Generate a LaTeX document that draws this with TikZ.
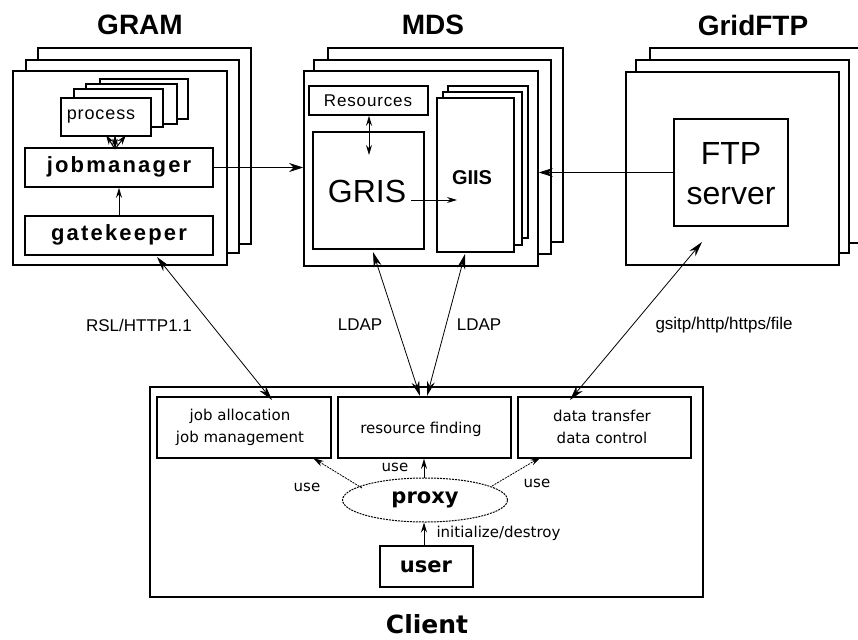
\documentclass[tikz,border=0pt]{standalone}
\usepackage{fontspec}
\setmainfont{Liberation Sans}
\newfontfamily\dejavu{DejaVu Sans}
\newfontfamily\spaced[LetterSpace=10]{Liberation Sans}
\newfontfamily\spacedlight[LetterSpace=5]{Liberation Sans}
\usetikzlibrary{arrows.meta,shapes.geometric,fit}

\begin{document}
\begin{tikzpicture}[x=1pt,y=-1pt,
  frame/.style={draw, line width=1.6pt, fill=white, inner sep=0pt},
  link/.style={line width=1pt, -{Stealth[length=14pt,width=9pt]}},
  smalllink/.style={line width=1pt, -{Stealth[length=10pt,width=6pt]}},
  smalldlink/.style={line width=1pt, {Stealth[length=10pt,width=6pt]}-{Stealth[length=10pt,width=6pt]}},
  dlink/.style={line width=0.8pt, {Stealth[length=15pt,width=8pt]}-{Stealth[length=15pt,width=8pt]}},
  uselink/.style={line width=0.8pt, dash pattern=on 2pt off 1pt, -{Stealth[length=11pt,width=6pt]}},
  title/.style={font=\fontsize{28}{30}\selectfont\bfseries},
  boldlabel/.style={font=\spaced\fontsize{22}{24}\selectfont\bfseries},
  proto/.style={font=\fontsize{17}{19}\selectfont},
  client/.style={font=\dejavu\fontsize{15}{22}\selectfont, align=center},
  clientbold/.style={font=\dejavu\fontsize{21}{23}\selectfont\bfseries},
]
\useasboundingbox (0,0) rectangle (858,639);
\clip (0,0) rectangle (858,639);

% ---------------- GRAM ----------------
\node[title] (gramtitle) at (140,25) {GRAM};
\node[frame, fit={(38,48) (251,244)}] (gram3) {};
\node[frame, fit={(26,60) (239,253)}] (gram2) {};
\node[frame, fit={(13,71) (227,265)}] (gram) {};
\node[frame, fit={(100,79) (188,119)}] (proc4) {};
\node[frame, fit={(86,84) (177,124)}] (proc3) {};
\node[frame, fit={(74,89) (163,127)}] (proc2) {};
\node[frame, fit={(61,98) (151,136)}] (proc) {};
\node[font=\spacedlight\fontsize{18}{20}\selectfont] (proctext) at (101,117) {process};
\node[frame, fit={(25,148) (213,187)}] (jm) {};
\node[boldlabel] (jmtext) at (119,167) {jobmanager};
\node[frame, fit={(25,216) (213,255)}] (gk) {};
\node[boldlabel] (gktext) at (119,235) {gatekeeper};

% jobmanager talks to the process copies
\coordinate (fanbase) at (115,149);
\coordinate (fanL) at (106,135);
\coordinate (fanM) at (115,135);
\coordinate (fanR) at (126,135);
\draw[smalldlink] (fanbase) -- (fanM);
\draw[smalllink] (fanbase) -- (fanL);
\draw[smalllink] (fanbase) -- (fanR);
\draw[smalllink] (gk.north) -- (jm.south);

% ---------------- MDS ----------------
\node[title] (mdstitle) at (433,25) {MDS};
\node[frame, fit={(328,48) (563,242)}] (mds3) {};
\node[frame, fit={(314,60) (551,254)}] (mds2) {};
\node[frame, fit={(304,71) (538,266)}] (mds) {};
\node[frame, fit={(309,86) (428,115)}] (res) {};
\node[font=\spacedlight\fontsize{17}{19}\selectfont] (restext) at (368,101) {Resources};
\node[frame, fit={(313,132) (424,249)}] (gris) {};
\node[font=\fontsize{32}{34}\selectfont] (gristext) at (367,191) {GRIS};
\node[frame, fit={(448,86) (528,238)}] (giis3) {};
\node[frame, fit={(443,92) (522,245)}] (giis2) {};
\node[frame, fit={(437,98) (514,252)}] (giis) {};
\node[font=\fontsize{20}{22}\selectfont\bfseries] (giistext) at (472,178) {GIIS};

\coordinate (grisin) at (369,155);
\draw[smalldlink] (res.south -| grisin) -- (grisin);
\coordinate (grisout) at (411,200);
\coordinate (giisin) at (457,200);
\draw[smalllink] (grisout) -- (giisin);

% ---------------- GridFTP ----------------
\node[title] (ftptitle) at (753,25) {GridFTP};
\node[frame, fit={(650,48) (880,243)}] (ftp3) {};
\node[frame, fit={(636,60) (849,253)}] (ftp2) {};
\node[frame, fit={(626,72) (839,265)}] (ftp) {};
\node[frame, fit={(674,119) (788,226)}] (ftpserver) {};
\node[font=\fontsize{32}{40}\selectfont, align=center] (ftptext) at (731,174) {FTP\\server};

% links between the services
\draw[link] (jm.east) -- (jm.east -| mds.west);
\draw[link] (ftpserver.west) -- (ftpserver.west -| mds.east);

% ---------------- Client ----------------
\node[frame, fit={(150,387) (703,597)}] (clientbox) {};
\node[font=\dejavu\fontsize{25}{27}\selectfont\bfseries] (clienttitle) at (427,624) {Client};
\node[frame, fit={(157,397) (331,458)}] (joballoc) {};
\node[client] (jobtext) at (240,427) {job allocation\\job management};
\node[frame, fit={(338,397) (511,458)}] (resfind) {};
\node[client] (restext2) at (421,429) {resource finding};
\node[frame, fit={(518,397) (691,458)}] (datatr) {};
\node[client] (datatext) at (602,427) {data transfer\\data control};
\node[draw, ellipse, line width=1pt, dash pattern=on 2pt off 1pt, fill=white,
      minimum width=165pt, minimum height=44pt, inner sep=0pt,
      font=\dejavu\fontsize{21}{23}\selectfont\bfseries] (proxy) at (425,500) {proxy};
\node[frame, fit={(380,546) (473,587)}] (user) {};
\node[clientbold] (usertext) at (426,567) {user};

% proxy use relations
\coordinate (useLa) at (362,488);
\coordinate (useLb) at (313,458);
\coordinate (useRa) at (492,486);
\coordinate (useRb) at (541,457);
\draw[uselink] (useLa) -- (useLb);
\draw[uselink] (useRa) -- (useRb);
\draw[smalllink] (proxy.north -| 424,0) -- (resfind.south -| 424,0);
\draw[smalllink] (user.north -| 424,0) -- (proxy.south -| 424,0);
\node[client] (useL) at (307,487) {use};
\node[client] (useM) at (395,467) {use};
\node[client] (useR) at (537,483) {use};
\node[client, anchor=west] (initlabel) at (433,533) {initialize/destroy};

% ---------------- protocols ----------------
\coordinate (rslA) at (157,257);
\coordinate (rslB) at (272,400);
\coordinate (ldapA) at (373,252);
\coordinate (ldapB) at (420,396);
\coordinate (ldapC) at (465,254);
\coordinate (ldapD) at (427,396);
\coordinate (gsiA) at (702,242);
\coordinate (gsiB) at (570,400);
\draw[dlink] (rslA) -- (rslB);
\draw[dlink] (ldapA) -- (ldapB);
\draw[dlink] (ldapC) -- (ldapD);
\draw[dlink] (gsiA) -- (gsiB);
\node[proto] (rsl) at (139,325) {RSL/HTTP1.1};
\node[proto] (ldap1) at (360,325) {LDAP};
\node[proto] (ldap2) at (479,325) {LDAP};
\node[proto] (gsi) at (724,325) {gsitp/http/https/file};
\end{tikzpicture}
\end{document}
